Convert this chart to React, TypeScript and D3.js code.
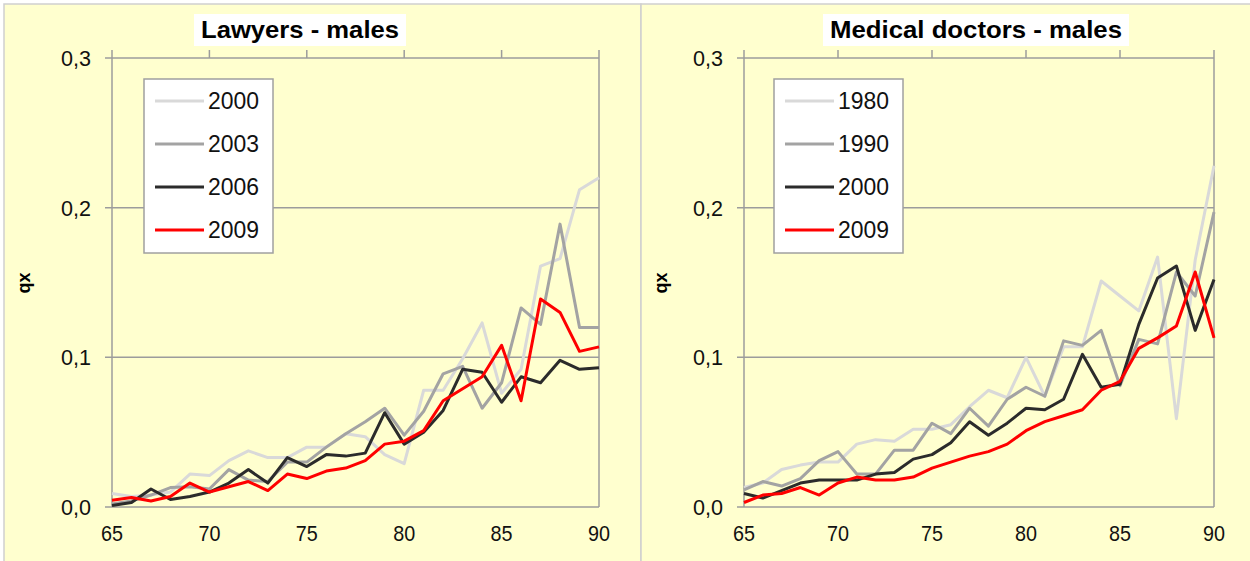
import React from "react";
import * as d3 from "d3";

const ages = d3.range(65, 91);
const xTicks = [65, 70, 75, 80, 85, 90];
const yTicks = [0, 0.1, 0.2, 0.3];

const lawyerYears = ["2000", "2003", "2006", "2009"];
const lawyer2000 = [0.009, 0.007, 0.008, 0.010, 0.022, 0.021, 0.031, 0.0375, 0.033, 0.033, 0.040, 0.040, 0.049, 0.047, 0.035, 0.029, 0.078, 0.078, 0.099, 0.123, 0.076, 0.092, 0.161, 0.166, 0.212, 0.220];
const lawyer2003 = [0.002, 0.004, 0.008, 0.013, 0.0135, 0.012, 0.025, 0.018, 0.017, 0.030, 0.030, 0.040, 0.049, 0.057, 0.066, 0.048, 0.064, 0.089, 0.094, 0.066, 0.083, 0.133, 0.122, 0.189, 0.120, 0.120];
const lawyer2006 = [0.001, 0.003, 0.012, 0.005, 0.007, 0.010, 0.016, 0.025, 0.016, 0.033, 0.027, 0.035, 0.034, 0.036, 0.063, 0.042, 0.050, 0.0645, 0.092, 0.090, 0.070, 0.087, 0.083, 0.098, 0.092, 0.093];
const lawyer2009 = [0.0045, 0.0063, 0.004, 0.007, 0.016, 0.010, 0.0135, 0.017, 0.011, 0.022, 0.019, 0.024, 0.026, 0.031, 0.042, 0.044, 0.051, 0.071, 0.079, 0.087, 0.108, 0.071, 0.139, 0.130, 0.104, 0.107];

const doctorYears = ["1980", "1990", "2000", "2009"];
const doctor1980 = [0.013, 0.016, 0.025, 0.028, 0.030, 0.030, 0.042, 0.045, 0.044, 0.052, 0.052, 0.055, 0.067, 0.078, 0.073, 0.100, 0.074, 0.107, 0.107, 0.151, 0.141, 0.131, 0.167, 0.059, 0.165, 0.228];
const doctor1990 = [0.0115, 0.017, 0.014, 0.019, 0.031, 0.037, 0.022, 0.022, 0.038, 0.038, 0.056, 0.049, 0.066, 0.054, 0.072, 0.080, 0.074, 0.111, 0.108, 0.118, 0.081, 0.112, 0.109, 0.157, 0.141, 0.197];
const doctor2000 = [0.009, 0.006, 0.011, 0.016, 0.018, 0.018, 0.018, 0.022, 0.023, 0.032, 0.035, 0.043, 0.057, 0.048, 0.056, 0.066, 0.065, 0.072, 0.102, 0.080, 0.082, 0.122, 0.153, 0.161, 0.118, 0.152];
const doctor2009 = [0.003, 0.008, 0.009, 0.013, 0.008, 0.016, 0.020, 0.018, 0.018, 0.020, 0.026, 0.030, 0.034, 0.037, 0.042, 0.051, 0.057, 0.061, 0.065, 0.078, 0.084, 0.106, 0.113, 0.121, 0.157, 0.113];

const colors = ["#d9d9d9", "#a3a3a3", "#2b2b2b", "#ff0000"];
const FONT = "'Liberation Sans', Arial, sans-serif";

type PanelProps = {
  title: string;
  years: string[];
  series: number[][];
  px0: number;
  px1: number;
  x0: number;
  x1: number;
  titleX: number;
  titleW: number;
  legendX: number;
  ylabX: number;
};

function Panel(p: PanelProps) {
  const yTop = 58;
  const yBot = 507;
  const x = d3.scaleLinear().domain([65, 90]).range([p.x0, p.x1]);
  const y = d3.scaleLinear().domain([0, 0.3]).range([yBot, yTop]);
  const line = d3
    .line<number>()
    .x((_, i) => x(ages[i]))
    .y((d) => y(d));
  const fmt = (v: number) => d3.format(".1f")(v).replace(".", ",");
  const axisColor = "#9c9c9c";
  const legW = 129;
  const legTop = 79;
  const legH = 174;
  return (
    <g>
      <rect x={p.px0} y={4} width={p.px1 - p.px0} height={561} fill="#FFFFCF" stroke="#cfcfcf" strokeWidth={1.5} />
      <rect x={p.titleX - p.titleW / 2 - 7} y={14} width={p.titleW + 14} height={32} fill="#ffffff" />
      <text x={p.titleX} y={38} textAnchor="middle" fontFamily={FONT} fontWeight="bold" fontSize={24} textLength={p.titleW} lengthAdjust="spacingAndGlyphs" fill="#000">
        {p.title}
      </text>
      {yTicks.map((t) => (
        <line key={"g" + t} x1={p.x0 - 7} x2={p.x1} y1={y(t)} y2={y(t)} stroke={axisColor} strokeWidth={1.5} />
      ))}
      {xTicks.map((t) => (
        <line key={"t" + t} x1={x(t)} x2={x(t)} y1={yTop - 8} y2={yTop} stroke={axisColor} strokeWidth={1.5} />
      ))}
      <line x1={p.x0} x2={p.x0} y1={yTop} y2={yBot} stroke={axisColor} strokeWidth={1.5} />
      <line x1={p.x1} x2={p.x1} y1={yTop} y2={yBot} stroke={axisColor} strokeWidth={1.5} />
      {yTicks.map((t) => (
        <text key={"yl" + t} x={p.x0 - 21} y={y(t) + 8} textAnchor="end" fontFamily={FONT} fontSize={22} fill="#111" textLength={30} lengthAdjust="spacingAndGlyphs">
          {fmt(t)}
        </text>
      ))}
      {xTicks.map((t) => (
        <text key={"xl" + t} x={x(t)} y={541} textAnchor="middle" fontFamily={FONT} fontSize={22} fill="#111" textLength={22} lengthAdjust="spacingAndGlyphs">
          {t}
        </text>
      ))}
      <text transform={`translate(${p.ylabX},283) rotate(-90)`} textAnchor="middle" fontFamily={FONT} fontWeight="bold" fontSize={18} fill="#000">
        qx
      </text>
      {p.series.map((s, i) => (
        <path key={"s" + i} d={line(s) || ""} fill="none" stroke={colors[i]} strokeWidth={3} strokeLinejoin="round" />
      ))}
      <rect x={p.legendX} y={legTop} width={legW} height={legH} fill="#ffffff" stroke="#a0a0a0" strokeWidth={1.5} />
      {p.years.map((yr, i) => {
        const cy = legTop + 22 + i * 43;
        return (
          <g key={"lg" + yr}>
            <line x1={p.legendX + 11} x2={p.legendX + 60} y1={cy} y2={cy} stroke={colors[i]} strokeWidth={3} />
            <text x={p.legendX + 64} y={cy + 8} fontFamily={FONT} fontSize={23} fill="#111" textLength={51} lengthAdjust="spacingAndGlyphs">
              {yr}
            </text>
          </g>
        );
      })}
    </g>
  );
}

export default function App() {
  return (
    <svg width={1250} height={561} style={{ position: "absolute", left: 0, top: 0, background: "#fff" }}>
      <rect x={0} y={0} width={1250} height={561} fill="#ffffff" />
      <Panel
        title="Lawyers - males"
        years={lawyerYears}
        series={[lawyer2000, lawyer2003, lawyer2006, lawyer2009]}
        px0={4}
        px1={641}
        x0={112}
        x1={599}
        titleX={300}
        titleW={198}
        legendX={144}
        ylabX={30}
      />
      <Panel
        title="Medical doctors - males"
        years={doctorYears}
        series={[doctor1980, doctor1990, doctor2000, doctor2009]}
        px0={641}
        px1={1252}
        x0={744}
        x1={1214}
        titleX={976}
        titleW={292}
        legendX={774}
        ylabX={667}
      />
    </svg>
  );
}
